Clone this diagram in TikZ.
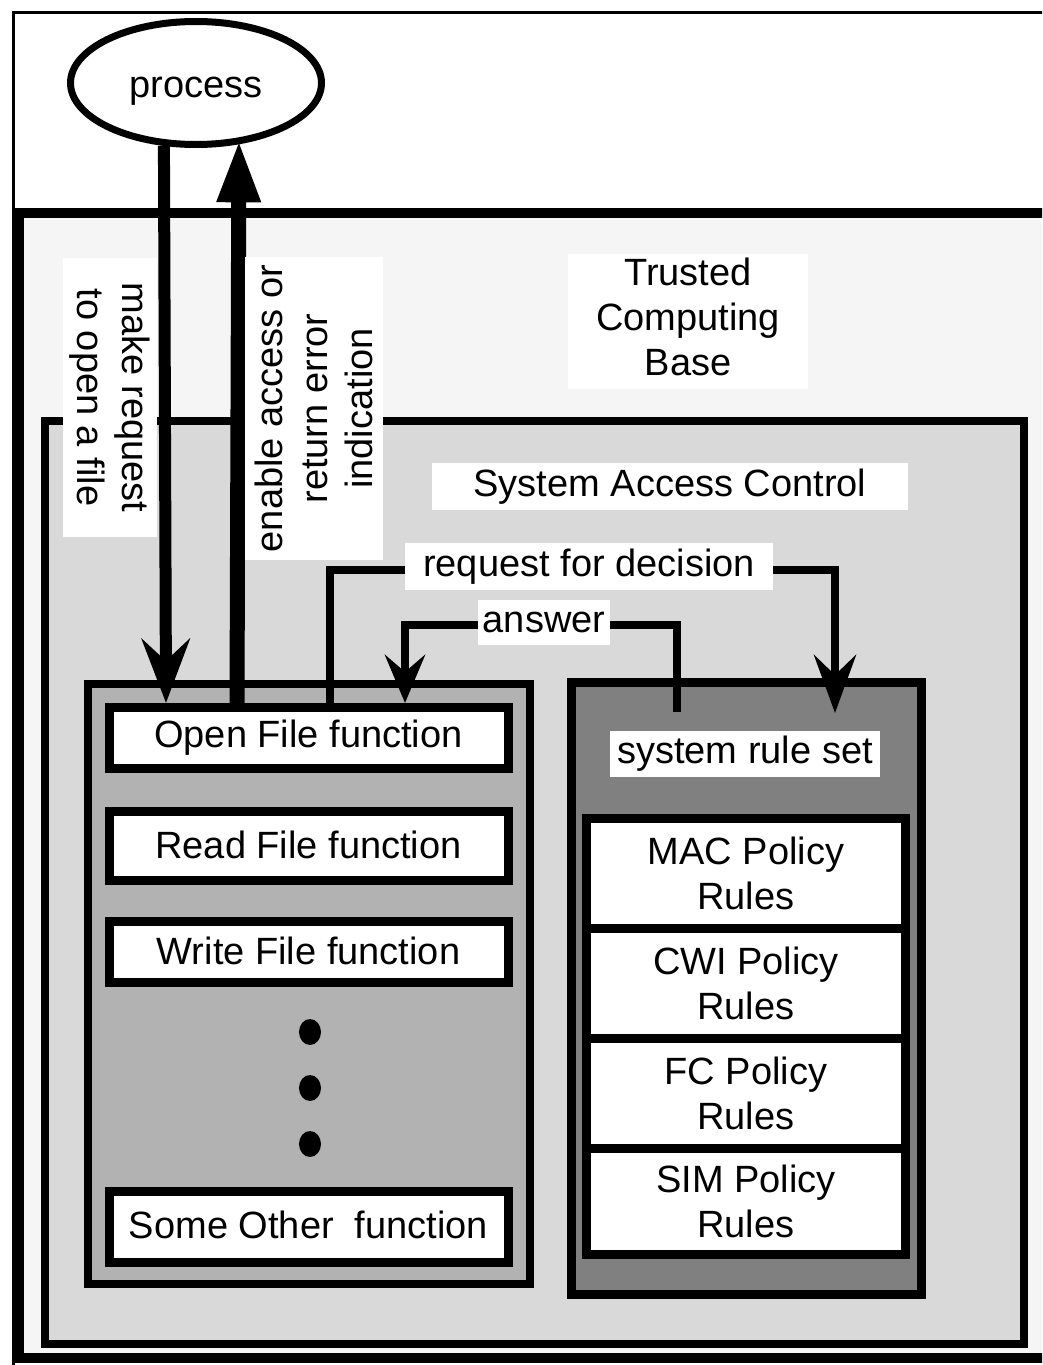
\documentclass[tikz,border=0pt]{standalone}
\usepackage{fontspec}
\setmainfont{Liberation Sans}
\usetikzlibrary{arrows.meta,shapes.geometric}
\begin{document}
\begin{tikzpicture}[x=1pt,y=-1pt,
  lbl/.style={font=\fontsize{38}{45}\selectfont, inner sep=0pt, align=center},
  wlbl/.style={lbl, fill=white},
  cont/.style={draw, inner sep=0pt},
  fbox/.style={draw, line width=9pt, fill=white, minimum width=399pt, lbl},
  rbox/.style={draw, line width=9pt, fill=white, minimum width=319pt, lbl},
  conn/.style={line width=8pt, line join=miter},
]
\useasboundingbox (0,0) rectangle (1042,1365);
\clip (0,0) rectangle (1042,1365);
\fill[white] (0,0) rectangle (1042,1365);

% frames
\node[cont, line width=3pt, fill=white, minimum width=1060pt, minimum height=1370pt] (outer) at (543,697) {};
\node[cont, line width=10pt, fill=black!4, minimum width=1033pt, minimum height=1145pt] (tcb) at (535.5,785.5) {};
\node[cont, line width=8pt, fill=black!15, minimum width=979.5pt, minimum height=923pt] (sac) at (534.25,882.5) {};
\node[cont, line width=8pt, fill=black!30, minimum width=442pt, minimum height=600.5pt] (funcs) at (308.5,983.75) {};
\node[cont, line width=9pt, fill=black!50, minimum width=350.5pt, minimum height=612pt] (rset) at (746.25,988) {};

% function boxes
\node[fbox, minimum height=61pt] (open) at (308.5,738) {Open File function};
\node[fbox, minimum height=69pt] (read) at (308.5,846) {\raisebox{3pt}{Read File function}};
\node[fbox, minimum height=61pt] (write) at (308.5,952) {\raisebox{2pt}{Write File function}};
\node[fbox, minimum height=71pt] (other) at (308.5,1227) {\raisebox{4pt}{Some Other\ \ function}};
\fill (310,1032) ellipse [x radius=11pt, y radius=13pt];
\fill (310,1088) ellipse [x radius=11pt, y radius=13pt];
\fill (310,1144) ellipse [x radius=11pt, y radius=13pt];

% rule boxes
\node[rbox, minimum height=110pt] (mac) at (746,873) {MAC Policy\\Rules};
\node[rbox, minimum height=110pt] (cwi) at (746,983) {CWI Policy\\Rules};
\node[rbox, minimum height=110pt] (fc) at (746,1093) {FC Policy\\Rules};
\node[rbox, minimum height=106pt] (sim) at (746,1201) {SIM Policy\\Rules};

% process
\node[draw, ellipse, line width=7pt, fill=white, minimum width=251pt, minimum height=123pt, lbl, text height=28pt, text depth=0pt] (proc) at (196,83) {process};

% connectors
\coordinate (mrx) at (166,0);
\coordinate (erx) at (237,0);
\draw[line width=12pt, -{Stealth[length=64pt,width=48pt,inset=22pt]}] (proc.243.3) -- (open.north -| mrx);
\draw[line width=15pt, -{Triangle[length=63pt,width=40pt]}] (open.north -| erx) -- ([yshift=5pt]proc.305.2);

\coordinate (dA) at (330,570);
\coordinate (dB) at (835,570);
\coordinate (dtip) at (835,713);
\draw[conn, -{Stealth[length=58pt,width=42pt,inset=20pt]}] (open.north -| dA) -- (dA) -- (dB) -- (dtip);

\coordinate (aS) at (677,712);
\coordinate (aA) at (677,625);
\coordinate (aB) at (405,625);
\draw[conn, -{Stealth[length=48pt,width=40pt,inset=17pt]}] (aS) -- (aA) -- (aB) -- (open.north -| aB);

% labels
\node[wlbl, minimum width=240pt, minimum height=133pt] (tcbl) at (688,321.5) {\raisebox{3pt}{\begin{tabular}{@{}c@{}}Trusted\\Computing\\Base\end{tabular}}};
\node[wlbl, minimum width=476pt, minimum height=47pt] (sacl) at (670,486.5) {System Access Control};
\node[wlbl, minimum width=368pt, minimum height=47pt] (rfd) at (589,566.5) {request for decision};
\node[wlbl, minimum width=132pt, minimum height=45pt] (ans) at (544,622) {answer};
\node[wlbl, minimum width=270pt, minimum height=46pt] (srs) at (745,754) {system rule set};
\node[wlbl, rotate=-90, minimum width=279pt, minimum height=94pt] (mrl) at (110,397.5) {make request\\to open a file};
\node[wlbl, rotate=90, minimum width=303pt, minimum height=138pt] (eal) at (314,408.5) {enable access or\\return error\\indication};
\end{tikzpicture}
\end{document}
